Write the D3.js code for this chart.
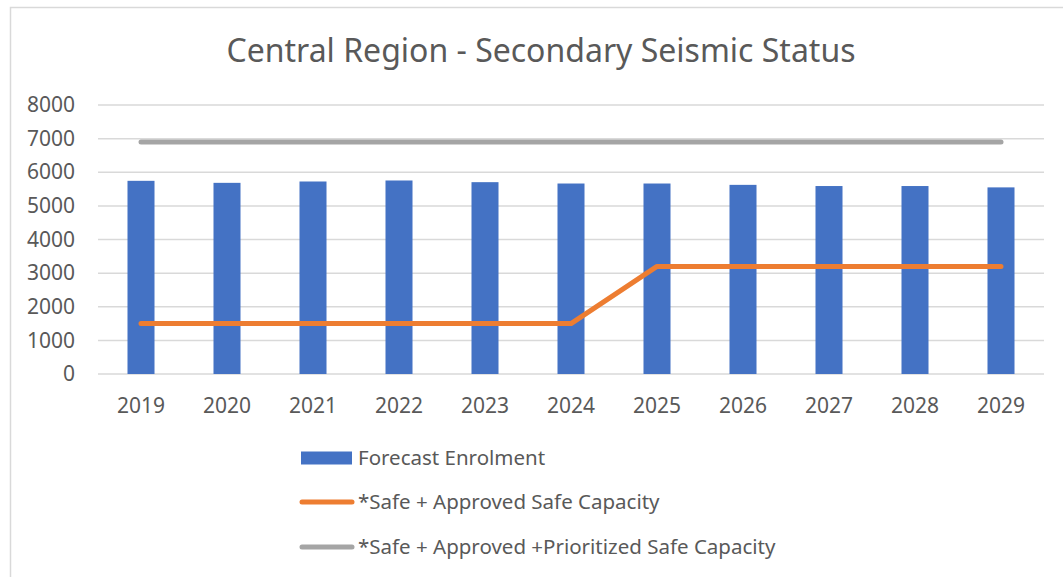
<!DOCTYPE html>
<html>
<head>
<meta charset="utf-8">
<script src="https://cdn.jsdelivr.net/npm/d3@7"></script>
<style>
  body { margin: 0; background: #fff; }
  text { font-family: "Noto Sans", "Open Sans", sans-serif; fill: #595959; }
</style>
</head>
<body>
<div id="chart"></div>
<script>
// Data
const years = ["2019", "2020", "2021", "2022", "2023", "2024", "2025", "2026", "2027", "2028", "2029"];
const enrolment = [5745, 5685, 5725, 5755, 5705, 5665, 5665, 5625, 5590, 5590, 5550];
const safeCapacity = [1500, 1500, 1500, 1500, 1500, 1500, 3200, 3200, 3200, 3200, 3200];
const prioritizedCapacity = [6900, 6900, 6900, 6900, 6900, 6900, 6900, 6900, 6900, 6900, 6900];
const yTicks = [0, 1000, 2000, 3000, 4000, 5000, 6000, 7000, 8000];
const seriesNames = ["Forecast Enrolment", "*Safe + Approved Safe Capacity", "*Safe + Approved +Prioritized Safe Capacity"];

// Colours
const barColor = "#4472c4";
const orange = "#ed7d31";
const grey = "#a5a5a5";

var width = 1063, height = 577;
var margin = {top: 105, right: 19, bottom: 203, left: 98};

var svg = d3.select("#chart").append("svg")
    .attr("width", width)
    .attr("height", height);

// outer chart border
svg.append("rect")
    .attr("x", 10.5).attr("y", 7.5)
    .attr("width", width + 20).attr("height", height + 20)
    .attr("fill", "none")
    .attr("stroke", "#d9d9d9")
    .attr("stroke-width", 1.5);

var x = d3.scaleBand()
    .domain(years)
    .range([margin.left, width - margin.right])
    .paddingInner(0.686)
    .paddingOuter(0.343);

var y = d3.scaleLinear()
    .domain([0, 8000])
    .range([height - margin.bottom, margin.top]);

// title
svg.append("text")
    .attr("x", 541)
    .attr("y", 62)
    .attr("text-anchor", "middle")
    .style("font-size", "32px")
    .text("Central Region - Secondary Seismic Status");

// gridlines
svg.append("g")
    .selectAll("line")
    .data(yTicks)
    .enter().append("line")
    .attr("x1", margin.left)
    .attr("x2", width - margin.right)
    .attr("y1", d => y(d))
    .attr("y2", d => y(d))
    .attr("stroke", "#d9d9d9")
    .attr("stroke-width", 1.5);

// y axis labels
var yAxis = svg.append("g")
    .attr("transform", "translate(" + (margin.left - 23) + ",0)")
    .call(d3.axisLeft(y).tickValues(yTicks).tickFormat(d3.format("d")).tickSize(0).tickPadding(0));
yAxis.select(".domain").remove();
yAxis.selectAll("text")
    .style("font-size", "21px")
    .style("font-family", "'Noto Sans', sans-serif")
    .attr("fill", "#595959");

// x axis labels
var xAxis = svg.append("g")
    .attr("transform", "translate(0," + (height - margin.bottom) + ")")
    .call(d3.axisBottom(x).tickSize(0).tickPadding(24));
xAxis.select(".domain").remove();
xAxis.selectAll("text")
    .style("font-size", "21px")
    .style("font-family", "'Noto Sans', sans-serif")
    .attr("fill", "#595959");

// bars
svg.append("g")
    .selectAll("rect")
    .data(enrolment)
    .enter().append("rect")
    .attr("x", (d, i) => x(years[i]))
    .attr("y", d => y(d))
    .attr("width", x.bandwidth())
    .attr("height", d => y(0) - y(d))
    .attr("fill", barColor);

// lines
var line = d3.line()
    .x((d, i) => x(years[i]) + x.bandwidth() / 2)
    .y(d => y(d));

[[prioritizedCapacity, grey], [safeCapacity, orange]].forEach(function (s) {
    svg.append("path")
        .datum(s[0])
        .attr("d", line)
        .attr("fill", "none")
        .attr("stroke", s[1])
        .attr("stroke-width", 5)
        .attr("stroke-linecap", "round")
        .attr("stroke-linejoin", "round");
});

// legend
var legendRows = [458, 502, 547];
var legend = svg.append("g");
seriesNames.forEach(function (name, i) {
    var cy = legendRows[i];
    if (i == 0) {
        legend.append("rect")
            .attr("x", 301).attr("y", cy - 6.5)
            .attr("width", 51).attr("height", 13)
            .attr("fill", barColor);
    } else {
        legend.append("line")
            .attr("x1", 302).attr("x2", 352)
            .attr("y1", cy).attr("y2", cy)
            .attr("stroke", i == 1 ? orange : grey)
            .attr("stroke-width", 5)
            .attr("stroke-linecap", "round");
    }
    legend.append("text")
        .attr("x", 358)
        .attr("y", cy)
        .attr("dy", "0.35em")
        .style("font-size", "20.5px")
        .text(name);
});
</script>
</body>
</html>
